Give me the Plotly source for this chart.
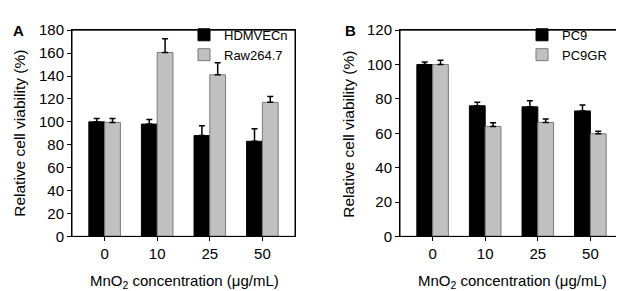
import plotly.graph_objects as go

categories = ["0", "10", "25", "50"]

a_hdmvecn = [100, 98, 88, 83]
a_hdmvecn_err = [3, 4, 8.5, 11]
a_raw = [99.5, 160.5, 141, 117]
a_raw_err = [3.5, 12, 10.5, 5]

b_pc9 = [100, 76, 75.4, 73]
b_pc9_err = [1.5, 2, 3.5, 3.4]
b_pc9gr = [100, 64, 66.3, 59.7]
b_pc9gr_err = [2.5, 2.2, 2, 1.5]

FONT = "Arial, Liberation Sans, sans-serif"
BLACK = "#000000"
GRAY = "#c0c0c0"
GRAY_EDGE = "#7a7a7a"

fig = go.Figure()

def add_pair(xa, ya, name1, v1, e1, name2, v2, e2, legend):
    x = [0, 1, 2, 3]
    fig.add_trace(go.Bar(
        x=x, y=v1, name=name1, xaxis=xa, yaxis=ya, legend=legend,
        marker=dict(color=BLACK, line=dict(color=BLACK, width=1)),
        error_y=dict(type="data", array=e1, arrayminus=[0]*4, symmetric=False,
                     color=BLACK, thickness=1.5, width=3),
    ))
    fig.add_trace(go.Bar(
        x=x, y=v2, name=name2, xaxis=xa, yaxis=ya, legend=legend,
        marker=dict(color=GRAY, line=dict(color=GRAY_EDGE, width=1)),
        error_y=dict(type="data", array=e2, arrayminus=[0]*4, symmetric=False,
                     color=BLACK, thickness=1.5, width=3),
    ))

add_pair("x", "y", "HDMVECn", a_hdmvecn, a_hdmvecn_err, "Raw264.7", a_raw, a_raw_err, "legend")
add_pair("x2", "y2", "PC9", b_pc9, b_pc9_err, "PC9GR", b_pc9gr, b_pc9gr_err, "legend2")

W, H = 624, 291
ydom = [(H - 233) / H, (H - 14) / H]

axis_common = dict(
    showline=True, linecolor="#000", linewidth=1, mirror=True,
    ticks="outside", ticklen=4, tickcolor="#000", tickwidth=1,
    showgrid=False, zeroline=False,
    tickfont=dict(family=FONT, size=15, color="#000"),
)

fig.update_layout(
    width=W, height=H,
    margin=dict(l=0, r=0, t=0, b=0),
    paper_bgcolor="white", plot_bgcolor="white",
    barmode="group", bargap=0.4, bargroupgap=0,
    showlegend=True,
    font=dict(family=FONT, size=14, color="#000"),
    xaxis=dict(domain=[64 / W, 287 / W], anchor="y", range=[-0.62, 3.62],
               tickmode="array", tickvals=[0, 1, 2, 3], ticktext=categories, **axis_common),
    yaxis=dict(domain=ydom, anchor="x", range=[0, 180], tickvals=list(range(0, 181, 20)), **axis_common),
    xaxis2=dict(domain=[392 / W, 615 / W], anchor="y2", range=[-0.62, 3.62],
                tickmode="array", tickvals=[0, 1, 2, 3], ticktext=categories, **axis_common),
    yaxis2=dict(domain=ydom, anchor="x2", range=[0, 120], tickvals=list(range(0, 121, 20)), **axis_common),
    legend=dict(x=176 / W, y=(H - 3) / H, xanchor="left", yanchor="top",
                bgcolor="rgba(0,0,0,0)", font=dict(family=FONT, size=13),
                itemwidth=30, tracegroupgap=0, borderwidth=0),
    legend2=dict(x=514 / W, y=(H - 3) / H, xanchor="left", yanchor="top",
                 bgcolor="rgba(0,0,0,0)", font=dict(family=FONT, size=13),
                 itemwidth=30, tracegroupgap=0, borderwidth=0),
)

for xa, ya in (("x", "y"), ("x2", "y2")):
    fig.add_shape(type="rect", xref=f"{xa} domain", yref=f"{ya} domain",
                  x0=0, x1=1, y0=0, y1=1, line=dict(color="#000", width=1), layer="above")

txt = dict(xref="paper", yref="paper", showarrow=False, xanchor="center", yanchor="middle")
annotations = [
    dict(text="<b>A</b>", x=10 / W, y=(H - 14) / H, font=dict(family=FONT, size=15), **txt),
    dict(text="<b>B</b>", x=342 / W, y=(H - 14) / H, font=dict(family=FONT, size=15), **txt),
    dict(text="Relative cell viability (%)", x=12 / W, y=(H - 124) / H, textangle=-90,
         font=dict(family=FONT, size=15.5), **txt),
    dict(text="Relative cell viability (%)", x=341 / W, y=(H - 124) / H, textangle=-90,
         font=dict(family=FONT, size=15.5), **txt),
    dict(text="MnO<sub>2</sub> concentration (μg/mL)", x=176 / W, y=(H - 281) / H,
         font=dict(family=FONT, size=15), **txt),
    dict(text="MnO<sub>2</sub> concentration (μg/mL)", x=504 / W, y=(H - 281) / H,
         font=dict(family=FONT, size=15), **txt),
]
fig.update_layout(annotations=annotations)

fig.write_html("out.html")
